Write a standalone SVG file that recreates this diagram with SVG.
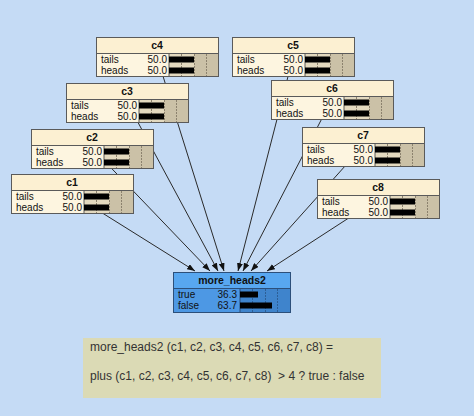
<svg xmlns="http://www.w3.org/2000/svg" width="474" height="416" viewBox="0 0 474 416">
<defs>
<style>
.title{font-family:"Liberation Sans",Arial,sans-serif;font-size:10.5px;font-weight:bold;fill:#111;text-anchor:middle}
.lbl{font-family:"Liberation Sans",Arial,sans-serif;font-size:10px;fill:#111}
.val{font-family:"Liberation Sans",Arial,sans-serif;font-size:10px;fill:#111;text-anchor:end}
.box{fill:#fcf0d2;stroke:#5a5a5a;stroke-width:1}
.body{fill:#fdf5e0}
.bararea{fill:#cbc1a7}
.barlight{fill:#e3d9bf}
.grid{stroke:#8c826e;stroke-width:1;stroke-dasharray:2,1}
.bar{fill:#000}
.edge{stroke:#2a2a2a;stroke-width:1;fill:none;marker-end:url(#arr)}
.expr{font-family:"Liberation Sans",Arial,sans-serif;font-size:12px;fill:#333}
</style>
<marker id="arr" markerWidth="8" markerHeight="6" refX="8" refY="3" orient="auto" markerUnits="userSpaceOnUse">
<path d="M0,0 L8,3 L0,6 z" fill="#111"/>
</marker>
</defs>
<rect x="0" y="0" width="474" height="416" fill="#c5dbf5"/>

<g id="connectors">
<line class="edge" x1="157" y1="57" x2="224" y2="271"/>
<line class="edge" x1="293" y1="57" x2="238" y2="271"/>
<line class="edge" x1="127" y1="102" x2="218" y2="271"/>
<line class="edge" x1="332" y1="99" x2="243" y2="271"/>
<line class="edge" x1="92" y1="148" x2="210" y2="271"/>
<line class="edge" x1="363" y1="146" x2="251" y2="271"/>
<line class="edge" x1="72" y1="194" x2="195" y2="271"/>
<line class="edge" x1="378" y1="199" x2="267" y2="271"/>
</g>

<g id="c4" transform="translate(96,37)">
<rect class="box" x="0.5" y="0.5" width="122" height="39"/>
<rect class="body" x="1" y="16.5" width="72" height="22.5"/>
<rect class="bararea" x="73" y="16.5" width="49" height="22.5"/>
<rect class="barlight" x="73" y="16.5" width="25" height="22.5"/>
<line class="grid" x1="85.5" y1="17" x2="85.5" y2="39"/><line class="grid" x1="98.5" y1="17" x2="98.5" y2="39"/><line class="grid" x1="110.5" y1="17" x2="110.5" y2="39"/>
<line x1="0.5" y1="16.5" x2="122.5" y2="16.5" stroke="#5a5a5a"/>
<line x1="73" y1="16.5" x2="73" y2="39.5" stroke="#5a5a5a"/>
<rect class="bar" x="73" y="19.5" width="25" height="6"/>
<rect class="bar" x="73" y="30.5" width="25" height="6"/>
<text class="title" x="61" y="12">c4</text>
<text class="lbl" x="5" y="26">tails</text><text class="val" x="71" y="26">50.0</text>
<text class="lbl" x="5" y="37">heads</text><text class="val" x="71" y="37">50.0</text>
</g>

<g id="c5" transform="translate(232,37)">
<rect class="box" x="0.5" y="0.5" width="122" height="39"/>
<rect class="body" x="1" y="16.5" width="72" height="22.5"/>
<rect class="bararea" x="73" y="16.5" width="49" height="22.5"/>
<rect class="barlight" x="73" y="16.5" width="25" height="22.5"/>
<line class="grid" x1="85.5" y1="17" x2="85.5" y2="39"/><line class="grid" x1="98.5" y1="17" x2="98.5" y2="39"/><line class="grid" x1="110.5" y1="17" x2="110.5" y2="39"/>
<line x1="0.5" y1="16.5" x2="122.5" y2="16.5" stroke="#5a5a5a"/>
<line x1="73" y1="16.5" x2="73" y2="39.5" stroke="#5a5a5a"/>
<rect class="bar" x="73" y="19.5" width="25" height="6"/>
<rect class="bar" x="73" y="30.5" width="25" height="6"/>
<text class="title" x="61" y="12">c5</text>
<text class="lbl" x="5" y="26">tails</text><text class="val" x="71" y="26">50.0</text>
<text class="lbl" x="5" y="37">heads</text><text class="val" x="71" y="37">50.0</text>
</g>

<g id="c3" transform="translate(66,83)">
<rect class="box" x="0.5" y="0.5" width="122" height="39"/>
<rect class="body" x="1" y="16.5" width="72" height="22.5"/>
<rect class="bararea" x="73" y="16.5" width="49" height="22.5"/>
<rect class="barlight" x="73" y="16.5" width="25" height="22.5"/>
<line class="grid" x1="85.5" y1="17" x2="85.5" y2="39"/><line class="grid" x1="98.5" y1="17" x2="98.5" y2="39"/><line class="grid" x1="110.5" y1="17" x2="110.5" y2="39"/>
<line x1="0.5" y1="16.5" x2="122.5" y2="16.5" stroke="#5a5a5a"/>
<line x1="73" y1="16.5" x2="73" y2="39.5" stroke="#5a5a5a"/>
<rect class="bar" x="73" y="19.5" width="25" height="6"/>
<rect class="bar" x="73" y="30.5" width="25" height="6"/>
<text class="title" x="61" y="12">c3</text>
<text class="lbl" x="5" y="26">tails</text><text class="val" x="71" y="26">50.0</text>
<text class="lbl" x="5" y="37">heads</text><text class="val" x="71" y="37">50.0</text>
</g>

<g id="c6" transform="translate(271,80)">
<rect class="box" x="0.5" y="0.5" width="122" height="39"/>
<rect class="body" x="1" y="16.5" width="72" height="22.5"/>
<rect class="bararea" x="73" y="16.5" width="49" height="22.5"/>
<rect class="barlight" x="73" y="16.5" width="25" height="22.5"/>
<line class="grid" x1="85.5" y1="17" x2="85.5" y2="39"/><line class="grid" x1="98.5" y1="17" x2="98.5" y2="39"/><line class="grid" x1="110.5" y1="17" x2="110.5" y2="39"/>
<line x1="0.5" y1="16.5" x2="122.5" y2="16.5" stroke="#5a5a5a"/>
<line x1="73" y1="16.5" x2="73" y2="39.5" stroke="#5a5a5a"/>
<rect class="bar" x="73" y="19.5" width="25" height="6"/>
<rect class="bar" x="73" y="30.5" width="25" height="6"/>
<text class="title" x="61" y="12">c6</text>
<text class="lbl" x="5" y="26">tails</text><text class="val" x="71" y="26">50.0</text>
<text class="lbl" x="5" y="37">heads</text><text class="val" x="71" y="37">50.0</text>
</g>

<g id="c2" transform="translate(31,129)">
<rect class="box" x="0.5" y="0.5" width="122" height="39"/>
<rect class="body" x="1" y="16.5" width="72" height="22.5"/>
<rect class="bararea" x="73" y="16.5" width="49" height="22.5"/>
<rect class="barlight" x="73" y="16.5" width="25" height="22.5"/>
<line class="grid" x1="85.5" y1="17" x2="85.5" y2="39"/><line class="grid" x1="98.5" y1="17" x2="98.5" y2="39"/><line class="grid" x1="110.5" y1="17" x2="110.5" y2="39"/>
<line x1="0.5" y1="16.5" x2="122.5" y2="16.5" stroke="#5a5a5a"/>
<line x1="73" y1="16.5" x2="73" y2="39.5" stroke="#5a5a5a"/>
<rect class="bar" x="73" y="19.5" width="25" height="6"/>
<rect class="bar" x="73" y="30.5" width="25" height="6"/>
<text class="title" x="61" y="12">c2</text>
<text class="lbl" x="5" y="26">tails</text><text class="val" x="71" y="26">50.0</text>
<text class="lbl" x="5" y="37">heads</text><text class="val" x="71" y="37">50.0</text>
</g>

<g id="c7" transform="translate(302,127)">
<rect class="box" x="0.5" y="0.5" width="122" height="39"/>
<rect class="body" x="1" y="16.5" width="72" height="22.5"/>
<rect class="bararea" x="73" y="16.5" width="49" height="22.5"/>
<rect class="barlight" x="73" y="16.5" width="25" height="22.5"/>
<line class="grid" x1="85.5" y1="17" x2="85.5" y2="39"/><line class="grid" x1="98.5" y1="17" x2="98.5" y2="39"/><line class="grid" x1="110.5" y1="17" x2="110.5" y2="39"/>
<line x1="0.5" y1="16.5" x2="122.5" y2="16.5" stroke="#5a5a5a"/>
<line x1="73" y1="16.5" x2="73" y2="39.5" stroke="#5a5a5a"/>
<rect class="bar" x="73" y="19.5" width="25" height="6"/>
<rect class="bar" x="73" y="30.5" width="25" height="6"/>
<text class="title" x="61" y="12">c7</text>
<text class="lbl" x="5" y="26">tails</text><text class="val" x="71" y="26">50.0</text>
<text class="lbl" x="5" y="37">heads</text><text class="val" x="71" y="37">50.0</text>
</g>

<g id="c1" transform="translate(11,174)">
<rect class="box" x="0.5" y="0.5" width="122" height="39"/>
<rect class="body" x="1" y="16.5" width="72" height="22.5"/>
<rect class="bararea" x="73" y="16.5" width="49" height="22.5"/>
<rect class="barlight" x="73" y="16.5" width="25" height="22.5"/>
<line class="grid" x1="85.5" y1="17" x2="85.5" y2="39"/><line class="grid" x1="98.5" y1="17" x2="98.5" y2="39"/><line class="grid" x1="110.5" y1="17" x2="110.5" y2="39"/>
<line x1="0.5" y1="16.5" x2="122.5" y2="16.5" stroke="#5a5a5a"/>
<line x1="73" y1="16.5" x2="73" y2="39.5" stroke="#5a5a5a"/>
<rect class="bar" x="73" y="19.5" width="25" height="6"/>
<rect class="bar" x="73" y="30.5" width="25" height="6"/>
<text class="title" x="61" y="12">c1</text>
<text class="lbl" x="5" y="26">tails</text><text class="val" x="71" y="26">50.0</text>
<text class="lbl" x="5" y="37">heads</text><text class="val" x="71" y="37">50.0</text>
</g>

<g id="c8" transform="translate(317,179)">
<rect class="box" x="0.5" y="0.5" width="122" height="39"/>
<rect class="body" x="1" y="16.5" width="72" height="22.5"/>
<rect class="bararea" x="73" y="16.5" width="49" height="22.5"/>
<rect class="barlight" x="73" y="16.5" width="25" height="22.5"/>
<line class="grid" x1="85.5" y1="17" x2="85.5" y2="39"/><line class="grid" x1="98.5" y1="17" x2="98.5" y2="39"/><line class="grid" x1="110.5" y1="17" x2="110.5" y2="39"/>
<line x1="0.5" y1="16.5" x2="122.5" y2="16.5" stroke="#5a5a5a"/>
<line x1="73" y1="16.5" x2="73" y2="39.5" stroke="#5a5a5a"/>
<rect class="bar" x="73" y="19.5" width="25" height="6"/>
<rect class="bar" x="73" y="30.5" width="25" height="6"/>
<text class="title" x="61" y="12">c8</text>
<text class="lbl" x="5" y="26">tails</text><text class="val" x="71" y="26">50.0</text>
<text class="lbl" x="5" y="37">heads</text><text class="val" x="71" y="37">50.0</text>
</g>

<g id="more_heads2" transform="translate(173,272)">
<rect x="0.5" y="0.5" width="117" height="40" fill="#58a7f0" stroke="#2c4f7a"/>
<rect x="1" y="16.5" width="66" height="23.5" fill="#4d98e4"/>
<rect x="67" y="16.5" width="50" height="23.5" fill="#3f84cc"/>
<line x1="79.5" y1="17" x2="79.5" y2="40" stroke="#2d5f96" stroke-dasharray="2,1"/>
<line x1="92.5" y1="17" x2="92.5" y2="40" stroke="#2d5f96" stroke-dasharray="2,1"/>
<line x1="104.5" y1="17" x2="104.5" y2="40" stroke="#2d5f96" stroke-dasharray="2,1"/>
<line x1="0.5" y1="16.5" x2="117.5" y2="16.5" stroke="#2c4f7a"/>
<line x1="67" y1="16.5" x2="67" y2="40.5" stroke="#2c4f7a"/>
<rect class="bar" x="67" y="19.5" width="18" height="6"/>
<rect class="bar" x="67" y="30.5" width="32" height="6"/>
<text class="title" x="59" y="12">more_heads2</text>
<text class="lbl" x="5" y="26">true</text><text class="val" x="64" y="26">36.3</text>
<text class="lbl" x="5" y="37">false</text><text class="val" x="64" y="37">63.7</text>
</g>

<g id="expression">
<rect x="83" y="338" width="298" height="60" fill="#dbdab5"/>
<text class="expr" x="90" y="351">more_heads2 (c1, c2, c3, c4, c5, c6, c7, c8) =</text>
<text class="expr" x="90" y="380" xml:space="preserve">plus (c1, c2, c3, c4, c5, c6, c7, c8)  &gt; 4 ? true : false</text>
</g>
</svg>
